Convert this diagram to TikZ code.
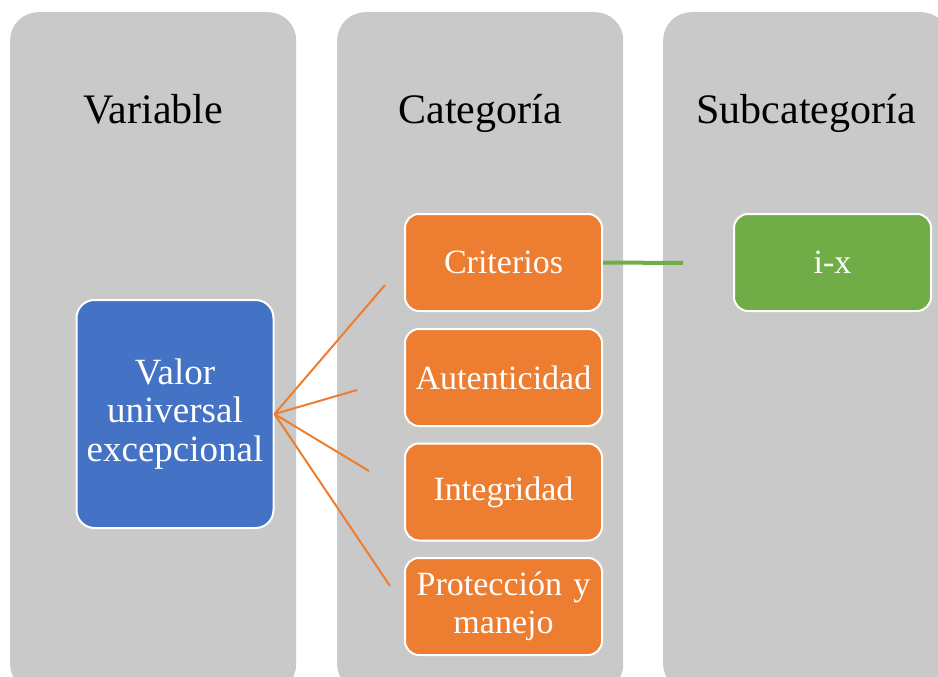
\documentclass[tikz,border=0pt]{standalone}
\usepackage{fontspec}
\setmainfont{Liberation Serif}
\definecolor{colgray}{HTML}{C9C9C9}
\definecolor{myblue}{HTML}{4472C4}
\definecolor{myorange}{HTML}{ED7D31}
\definecolor{mygreen}{HTML}{70AD47}
\begin{document}
\begin{tikzpicture}[x=1pt,y=-1pt,
  column/.style={fill=colgray,rounded corners=28pt,inner sep=0pt,minimum width=286pt,minimum height=680pt,anchor=north west},
  title/.style={anchor=base,inner sep=0pt,font=\fontsize{42}{46}\selectfont,text=black},
  box/.style={draw=white,line width=2pt,rounded corners=14pt,minimum width=197pt,minimum height=97pt,inner sep=0pt,text width=190pt,align=center,text=white,font=\fontsize{34}{38.5}\selectfont},
  link/.style={draw=myorange,line width=2pt},
  glink/.style={draw=mygreen,line width=4pt}]
\useasboundingbox (0,0) rectangle (938,677);
\clip (0,0) rectangle (938,677);
\node[column] (c1) at (10,12) {};
\node[column] (c2) at (337,12) {};
\node[column] (c3) at (663,12) {};
\node[title] (t1) at (153,124) {Variable};
\node[title] (t2) at (480,124) {Categoría};
\node[title] (t3) at (806,124) {Subcategoría};
\node[box,fill=myblue,minimum width=197pt,minimum height=228pt,rounded corners=18pt,font=\fontsize{37}{38.5}\selectfont] (v) at (175,414) {Valor\\universal\\excepcional};
\node[box,fill=myorange] (b1) at (503.5,262.5) {Criterios};
\node[box,fill=myorange] (b2) at (503.5,377.5) {Autenticidad};
\node[box,fill=myorange] (b3) at (503.5,492) {Integridad};
\node[box,fill=myorange] (b4) at (503.5,606.5) {Protección y\\manejo};
\node[box,fill=mygreen] (g) at (832.5,262.5) {i-x};
\coordinate (p1) at (385,285);
\coordinate (p2) at (357,390);
\coordinate (p3) at (369,471);
\coordinate (p4) at (390,586);
\coordinate (q1) at (683,263);
\draw[link] (v.east) -- (p1);
\draw[link] (v.east) -- (p2);
\draw[link] (v.east) -- (p3);
\draw[link] (v.east) -- (p4);
\draw[glink] (b1.east) -- (q1);
\end{tikzpicture}
\end{document}
